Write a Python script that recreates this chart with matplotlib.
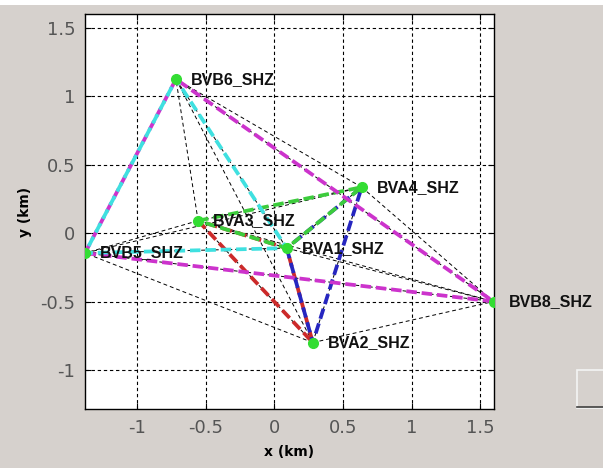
import numpy as np
import matplotlib.pyplot as plt
from matplotlib.patches import Rectangle
from itertools import combinations

# station positions (km)
names = ['BVA1_SHZ', 'BVA2_SHZ', 'BVA3_SHZ', 'BVA4_SHZ', 'BVB5_SHZ', 'BVB6_SHZ', 'BVB8_SHZ']
xs = [0.09, 0.28, -0.555, 0.636, -1.378, -0.716, 1.595]
ys = [-0.11, -0.80, 0.09, 0.335, -0.146, 1.124, -0.50]

# triangles drawn in colour (indices into names)
tri_red = [2, 1, 0]
tri_blue = [0, 1, 3]
tri_green = [2, 3, 0]
tri_cyan = [4, 5, 0]
tri_magenta = [4, 5, 6]

xticks = [-1, -0.5, 0, 0.5, 1, 1.5]
yticks = [-1, -0.5, 0, 0.5, 1, 1.5]

bg = '#d6d1cd'
W, H = 603, 468
fig = plt.figure(figsize=(W / 100, H / 100), dpi=100, facecolor=bg)
ax = fig.add_axes([85 / W, (H - 409) / H, 408.5 / W, 395 / H])
ax.set_facecolor('white')

xs = np.array(xs)
ys = np.array(ys)

# thin black dashed lines between every pair of stations
for i, j in combinations(range(len(names)), 2):
    ax.plot([xs[i], xs[j]], [ys[i], ys[j]], color='black', lw=0.7,
            linestyle=(0, (4, 3)), zorder=2)


def tri(ax, idx, col, off=0):
    idx = idx + [idx[0]]
    ax.plot(xs[idx], ys[idx], color=col, lw=2.7, linestyle=(off, (2.8, 1.3)),
            zorder=3, dash_capstyle='butt')


tri(ax, tri_red, '#cc2a2a')
tri(ax, tri_blue, '#2626c0')
tri(ax, tri_green, '#3ccc3c')
tri(ax, tri_magenta, '#cc33cc')
tri(ax, tri_cyan, '#3fe0e0', off=2)

ax.plot(xs, ys, 'o', color='#33dd33', ms=7, zorder=4)
for n, x, y in zip(names, xs, ys):
    ax.annotate(n, (x, y), xytext=(11, 0), textcoords='offset points',
                va='center', ha='left', fontsize=11.5, fontweight='bold',
                family='Liberation Sans', color='#111111', zorder=5)

ax.set_xlim(-1.378, 1.595)
ax.set_ylim(-1.285, 1.6)
ax.set_xticks(xticks)
ax.set_yticks(yticks)
ax.set_xticklabels(['-1', '-0.5', '0', '0.5', '1', '1.5'])
ax.set_yticklabels(['-1', '-0.5', '0', '0.5', '1', '1.5'])
ax.grid(True, color='black', linestyle=(0, (3, 2.5)), lw=0.8)
ax.tick_params(direction='in', length=4, labelsize=13, labelcolor='#555555',
               top=True, right=True, pad=7)
for s in ax.spines.values():
    s.set_linewidth(1.0)
ax.set_xlabel('x (km)', fontsize=10, fontweight='bold', labelpad=6)
ax.set_ylabel('y (km)', fontsize=10, fontweight='bold', labelpad=6)

# white strip at top and a partly visible button on the right
fig.add_artist(Rectangle((0, (H - 5) / H), 1, 5 / H, transform=fig.transFigure,
                         facecolor='white', edgecolor='none'))
fig.add_artist(Rectangle((577 / W, (H - 408) / H), 30 / W, 38 / H,
                         transform=fig.transFigure, facecolor=bg,
                         edgecolor='#f4f4f4', lw=1.2))
fig.add_artist(plt.Line2D([577 / W, 1], [(H - 407) / H, (H - 407) / H],
                          transform=fig.transFigure, color='#404040', lw=1.2))

fig.savefig('out.png', dpi=100, facecolor=bg)
